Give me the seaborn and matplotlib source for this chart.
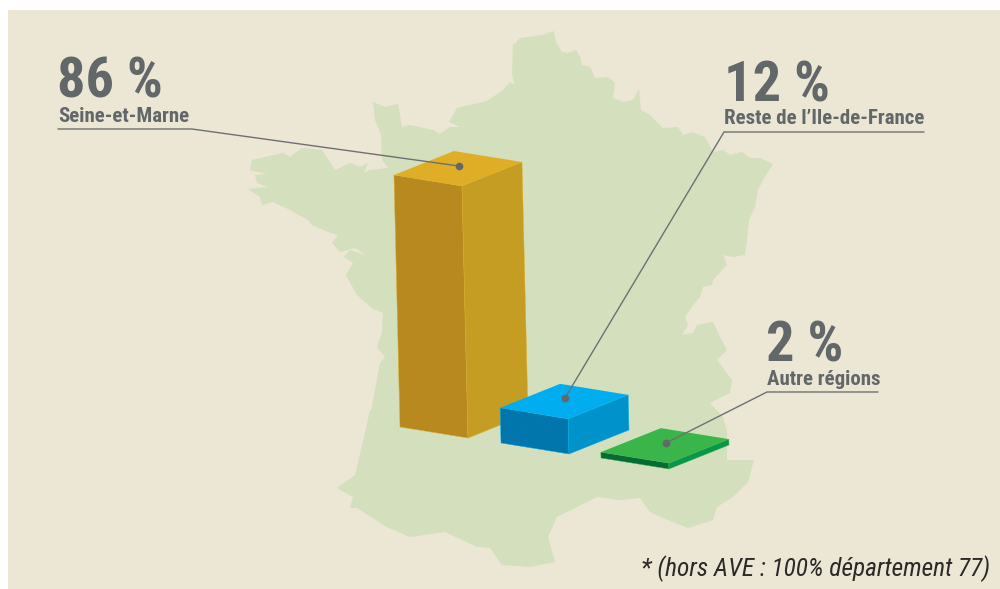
import matplotlib
matplotlib.use("Agg")
import matplotlib.pyplot as plt
from matplotlib.patches import Rectangle
from matplotlib.transforms import Affine2D
import seaborn as sns

sns.set_theme(style="white")

# share of the total per area
regions = ["Seine-et-Marne", "Reste de l\u2019Ile-de-France", "Autre r\u00e9gions"]
shares = [86, 12, 2]
share_labels = ["86 %", "12 %", "2 %"]

left_colors = ["#b8891f", "#0076ad", "#076b35"]
right_colors = ["#c49d22", "#0093cb", "#0a9648"]
top_colors = ["#e0ae26", "#00aeef", "#39b54a"]

bg = "#ece6d5"
map_color = "#d4dfbd"
text_color = "#62676a"
line_color = "#6d7072"

# france silhouette, traced in pixels (background decoration)
france = [
    (514, 45), (520, 38), (543, 35), (554, 31), (556, 43), (562, 52), (568, 53), (576, 50), (580, 57),
    (582, 65), (590, 67), (595, 78), (608, 77), (615, 83), (613, 98), (623, 102), (633, 100), (639, 89),
    (641, 110), (650, 115), (663, 128), (678, 127), (683, 135), (692, 132), (705, 137), (713, 152),
    (723, 150), (730, 155), (742, 152), (750, 158), (760, 158), (773, 164), (763, 180), (758, 190),
    (755, 207), (749, 220), (747, 240), (745, 255), (733, 257), (723, 255), (727, 265), (713, 280),
    (712, 285), (703, 287), (700, 297), (697, 300), (685, 317), (688, 325), (682, 335), (693, 333),
    (697, 325), (713, 322), (720, 337), (727, 350), (717, 360), (732, 380), (730, 393), (710, 403),
    (723, 417), (727, 430), (727, 460), (754, 460), (748, 482), (733, 497), (717, 507), (713, 520),
    (688, 528), (663, 518), (650, 512), (640, 498), (620, 500), (597, 497), (557, 517), (548, 537),
    (555, 562), (530, 567), (502, 565), (490, 548), (477, 547), (445, 532), (410, 537), (387, 527),
    (357, 508), (350, 508), (353, 497), (337, 488), (355, 475), (365, 433), (370, 410), (380, 413),
    (371, 412), (380, 363), (385, 357), (377, 347), (382, 333), (383, 313), (373, 309), (357, 295),
    (346, 275), (353, 263), (344, 257), (350, 250), (366, 255), (355, 248), (340, 252), (332, 243),
    (338, 235), (328, 232), (312, 225), (308, 220), (290, 210), (273, 202), (262, 205), (260, 197),
    (248, 189), (268, 187), (257, 183), (255, 175), (267, 174), (250, 170), (252, 160), (283, 153),
    (290, 157), (302, 148), (322, 150), (335, 170), (350, 163), (360, 167), (368, 163), (364, 173),
    (370, 170), (388, 168), (382, 160), (381, 135), (375, 120), (373, 102), (385, 107), (398, 104),
    (402, 127), (410, 125), (433, 130), (440, 134), (450, 127), (460, 127), (449, 122), (457, 108),
    (487, 101), (503, 90), (510, 82), (515, 85), (512, 75), (513, 43),
]

# bar geometry in pixels: front foot of each block and the oblique axes
feet = [(468, 438), (569, 454), (669, 469)]
to_left = (-68, -11)
to_right = (60, -24)
up = (-0.07, -2.93)  # pixels per percentage point

fig, ax = plt.subplots(figsize=(10, 5.89), dpi=100)
fig.subplots_adjust(0, 0, 1, 1)
fig.patch.set_facecolor("white")

sns.barplot(x=regions, y=shares, hue=regions, palette=left_colors, legend=False, width=0.8, ax=ax)
sns.barplot(x=regions, y=shares, hue=regions, palette=right_colors, legend=False, width=0.8, ax=ax)
bars = sorted(ax.patches, key=lambda b: b.get_x())
ax.set_xlim(0, 1000)
ax.set_ylim(589, 0)
ax.set_facecolor("white")
ax.axis("off")

ax.add_patch(Rectangle((8, 10), 992, 579, fc=bg, ec="none", zorder=0))
ax.fill(*zip(*france), color=map_color, lw=0, zorder=1)

n = len(regions)
for i in range(n):
    foot = feet[i]
    # the two seaborn bars of a region become the two visible sides of its block
    left_bar, right_bar = bars[2 * i], bars[2 * i + 1]
    x0, w = left_bar.get_x(), left_bar.get_width()
    tr_left = Affine2D.from_values(-to_left[0] / w, -to_left[1] / w, up[0], up[1],
                                   foot[0] + to_left[0] + to_left[0] * x0 / w,
                                   foot[1] + to_left[1] + to_left[1] * x0 / w)
    tr_right = Affine2D.from_values(to_right[0] / w, to_right[1] / w, up[0], up[1],
                                    foot[0] - to_right[0] * x0 / w,
                                    foot[1] - to_right[1] * x0 / w)
    for bar, tr, col in ((left_bar, tr_left, left_colors[i]), (right_bar, tr_right, right_colors[i])):
        bar.set_transform(tr + ax.transData)
        bar.set_facecolor(col)
        bar.set_clip_on(False)
        bar.set_zorder(3 + i)
        bar.set_edgecolor(top_colors[i])
        bar.set_linewidth(0.3)
    h = left_bar.get_height()
    tx, ty = foot[0] + up[0] * h, foot[1] + up[1] * h
    top = [
        (tx, ty),
        (tx + to_left[0], ty + to_left[1]),
        (tx + to_left[0] + to_right[0], ty + to_left[1] + to_right[1]),
        (tx + to_right[0], ty + to_right[1]),
    ]
    ax.fill(*zip(*top), color=top_colors[i], lw=0, zorder=3.5 + i)

# leaders
leaders = [
    [(58, 129), (192, 129), (459, 166)],
    [(924, 132), (724, 132), (565, 398)],
    [(878, 392), (767, 392), (666, 443)],
]
for pts in leaders:
    ax.plot(*zip(*pts), color=line_color, lw=1.0, zorder=10, solid_joinstyle="miter")
    ax.plot(*pts[-1], "o", color=text_color, ms=5.5, mew=0, zorder=11)

narrow = ["Roboto Condensed", "Barlow Semi Condensed", "Liberation Sans"]
pct_pos = [(57, 98), (724, 101), (766, 362)]
name_pos = [(58, 122), (724, 124), (767, 385)]
for i in range(n):
    ax.text(*pct_pos[i], share_labels[i], family=narrow, weight="bold", fontsize=40.5,
            color=text_color, va="baseline", ha="left", zorder=12)
    ax.text(*name_pos[i], regions[i], family=narrow, weight="bold", fontsize=15,
            color=text_color, va="baseline", ha="left", zorder=12)

ax.text(990, 576, "* (hors AVE : 100% d\u00e9partement 77)", family=narrow, style="italic", fontsize=18.3,
        color="#2b2a29", ha="right", va="baseline", zorder=12)

fig.savefig("out.png", dpi=100, facecolor="white")
